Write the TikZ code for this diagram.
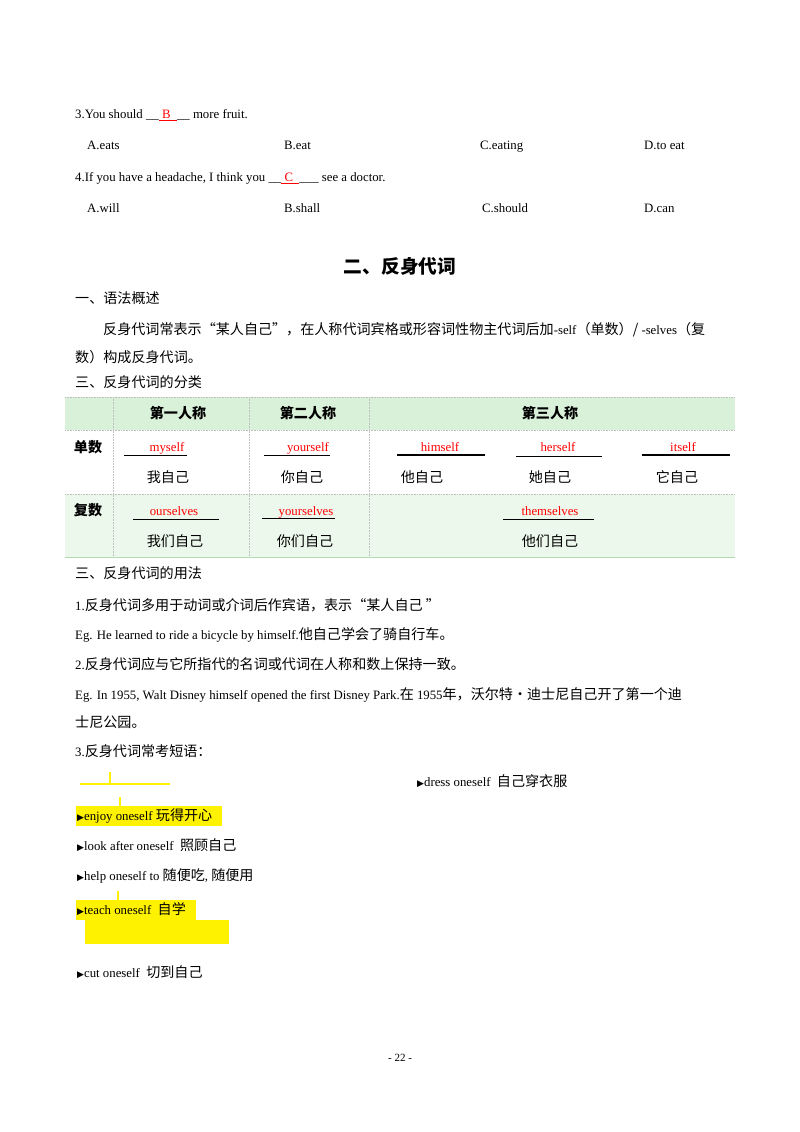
\documentclass[tikz,border=0pt]{standalone}
\usepackage{fontspec}
\setmainfont{Liberation Serif}
\newfontfamily\cjk[Scale=1.1]{Noto Sans CJK SC}
\newfontfamily\sym{DejaVu Sans}
\newcommand{\tri}{{\sym\fontsize{9}{10}\selectfont ▶}}
\begin{document}
\begin{tikzpicture}[x=1pt,y=-1pt,
  t/.style={anchor=base west,inner sep=0pt,yshift=-4.5pt,font=\fontsize{12.8}{14}\selectfont},
  c/.style={anchor=base,inner sep=0pt,yshift=-5pt,font=\fontsize{12.8}{14}\selectfont\cjk},
  r/.style={anchor=base,inner sep=0pt,yshift=-4.5pt,text=red,font=\fontsize{12.8}{14}\selectfont},
  hl/.style={fill=yellow,draw=none},
  yl/.style={draw=yellow,line width=1.5pt},
  grid/.style={draw=black!25,densely dotted,line width=0.6pt}]
\useasboundingbox (0,0) rectangle (800,1132);
\fill[white] (0,0) rectangle (800,1132);
% questions
\node[t] (q3) at (75,114) {3.You should \_\_\textcolor{red}{\underline{\ B\ \ }}\_\_ more fruit.};
\node[t] (a1) at (87,145) {A.eats};
\node[t] (b1) at (284,145) {B.eat};
\node[t] (c1) at (480,145) {C.eating};
\node[t] (d1) at (644,145) {D.to eat};
\node[t] (q4) at (75,177) {4.If you have a headache, I think you \_\_\textcolor{red}{\underline{\ C\ \ }}\_\_\_ see a doctor.};
\node[t] (a2) at (87,208) {A.will};
\node[t] (b2) at (284,208) {B.shall};
\node[t] (c2) at (482,208) {C.should};
\node[t] (d2) at (644,208) {D.can};
% title
\node[c,yshift=-2pt,font=\fontsize{17}{20}\selectfont\cjk\bfseries] (title) at (400,266) {二、反身代词};
\node[t,font=\fontsize{12.8}{14}\selectfont\cjk] (s1) at (75,299) {一、语法概述};
\node[t,font=\fontsize{12.8}{14}\selectfont\cjk] (p1) at (103,330) {反身代词常表示“某人自己”，在人称代词宾格或形容词性物主代词后加{\rmfamily -self}（单数）/ {\rmfamily -selves}（复};
\node[t,font=\fontsize{12.8}{14}\selectfont\cjk] (p2) at (75,358) {数）构成反身代词。};
\node[t,font=\fontsize{12.8}{14}\selectfont\cjk] (s2) at (75,383) {三、反身代词的分类};
% table
\fill[green!60!black!15] (65,397) rectangle (735,430);
\fill[green!60!black!7] (65,494) rectangle (735,557);
\draw[grid] (65,397) -- (735,397) (65,430) -- (735,430) (65,494) -- (735,494);
\draw[draw=green!50!black!30,line width=1pt] (65,557) -- (735,557);
\draw[grid] (113,397) -- (113,557) (249,397) -- (249,557) (369,397) -- (369,557);
\node[c,font=\fontsize{12.8}{14}\selectfont\cjk\bfseries] (h1) at (178,413) {第一人称};
\node[c,font=\fontsize{12.8}{14}\selectfont\cjk\bfseries] (h2) at (308,413) {第二人称};
\node[c,font=\fontsize{12.8}{14}\selectfont\cjk\bfseries] (h3) at (550,413) {第三人称};
\node[c,font=\fontsize{12.8}{14}\selectfont\cjk\bfseries] (sg) at (88,447) {单数};
\node[c,font=\fontsize{12.8}{14}\selectfont\cjk\bfseries] (pl) at (88,510) {复数};
\node[r] (w1) at (167,447) {myself};
\node[r] (w2) at (308,447) {yourself};
\node[r] (w3) at (440,447) {himself};
\node[r] (w4) at (558,447) {herself};
\node[r] (w5) at (683,447) {itself};
\draw[line width=0.7pt] (124,455) -- (187,455) (264,455) -- (330,455);
\draw[line width=1.4pt] (397,455) -- (485,455) (642,455) -- (730,455);
\draw[line width=1pt] (516,456) -- (602,456);
\node[c] (z1) at (168,477) {我自己};
\node[c] (z2) at (302,477) {你自己};
\node[c] (z3) at (422,477) {他自己};
\node[c] (z4) at (550,477) {她自己};
\node[c] (z5) at (677,477) {它自己};
\node[r] (v1) at (174,511) {ourselves};
\node[r] (v2) at (306,511) {yourselves};
\node[r] (v3) at (550,511) {themselves};
\draw[line width=0.9pt] (133,519) -- (219,519) (262,518) -- (335,518) (503,519) -- (594,519);
\node[c] (y1) at (175,541) {我们自己};
\node[c] (y2) at (305,541) {你们自己};
\node[c] (y3) at (550,541) {他们自己};
% usage
\node[t,font=\fontsize{12.8}{14}\selectfont\cjk] (s3) at (75,574) {三、反身代词的用法};
\node[t,font=\fontsize{12.8}{14}\selectfont\cjk] (u1) at (75,606) {{\rmfamily 1.}反身代词多用于动词或介词后作宾语，表示“某人自己 ”};
\node[t] (e1) at (75,635) {Eg. He learned to ride a bicycle by himself.{\cjk 他自己学会了骑自行车。}};
\node[t,font=\fontsize{12.8}{14}\selectfont\cjk] (u2) at (75,665) {{\rmfamily 2.}反身代词应与它所指代的名词或代词在人称和数上保持一致。};
\node[t] (e2) at (75,695) {Eg. In 1955, Walt Disney himself opened the first Disney Park.{\cjk 在 }1955{\cjk 年，沃尔特·迪士尼自己开了第一个迪}};
\node[t,font=\fontsize{12.8}{14}\selectfont\cjk] (e3) at (75,723) {士尼公园。};
\node[t,font=\fontsize{12.8}{14}\selectfont\cjk] (u3) at (75,752) {{\rmfamily 3.}反身代词常考短语：};
% highlights
\draw[yl] (80,784) -- (170,784) (110,772) -- (110,784) (120,797) -- (120,808);
\fill[hl] (76,806) rectangle (222,826);
\fill[hl] (76,900) rectangle (196,920);
\fill[hl] (85,920) rectangle (229,944);
\draw[yl] (118,891) -- (118,917);
\node[t] (f0) at (417,782) {\tri dress oneself\ \ {\cjk 自己穿衣服}};
\node[t] (f1) at (77,816) {\tri enjoy oneself {\cjk 玩得开心}};
\node[t] (f2) at (77,846) {\tri look after oneself\ \ {\cjk 照顾自己}};
\node[t] (f3) at (77,876) {\tri help oneself to {\cjk 随便吃}, {\cjk 随便用}};
\node[t] (f4) at (77,910) {\tri teach oneself\ \ {\cjk 自学}};
\node[t] (f5) at (77,973) {\tri cut oneself\ \ {\cjk 切到自己}};
\node[anchor=base,inner sep=0pt,yshift=-4pt,font=\fontsize{11}{13}\selectfont] (pg) at (400,1057) {- 22 -};
\end{tikzpicture}
\end{document}
